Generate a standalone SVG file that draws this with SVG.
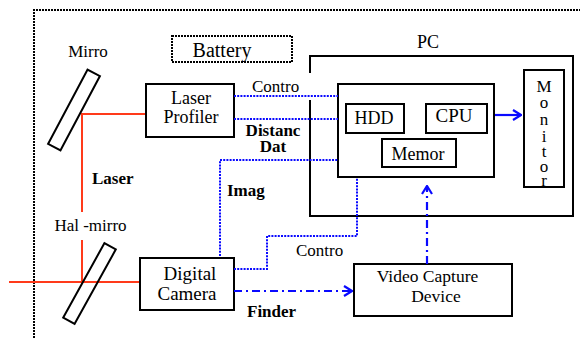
<svg xmlns="http://www.w3.org/2000/svg" width="580" height="338" viewBox="0 0 580 338" font-family="Liberation Serif" font-size="17">
<defs>
<style>
.box{fill:#fff;stroke:#000;stroke-width:2}
.c{text-anchor:middle}
.b{font-weight:bold}
.red{fill:none;stroke:#ff3a1a;stroke-width:2}
.dot{fill:none;stroke:#0a0aff;stroke-width:2;stroke-dasharray:2 1.2}
.dd{fill:none;stroke:#0a0aff;stroke-width:2.2;stroke-dasharray:8 4 2 4}
.sol{fill:none;stroke:#0a0aff;stroke-width:2.2}
</style>
<marker id="ah" markerWidth="10" markerHeight="12" refX="9" refY="6" orient="auto" markerUnits="userSpaceOnUse">
<path d="M1,1 L9,6 L1,11" fill="none" stroke="#0a0aff" stroke-width="2.2"/>
</marker>
</defs>
<rect width="580" height="338" fill="#fff"/>
<path d="M34,338 V10 H580" fill="none" stroke="#000" stroke-width="2" stroke-dasharray="2 1"/>
<g id="battery">
<rect x="172" y="36" width="120" height="26" fill="#fff" stroke="#000" stroke-width="2" stroke-dasharray="2 1"/>
<text class="c" x="222" y="57" font-size="20">Battery</text>
</g>
<g id="laser-beam">
<path class="red" d="M146,114 H82 V212"/>
<path class="red" d="M82,240 V282"/>
<path class="red" d="M9,282 H140"/>
</g>
<g id="mirror">
<rect x="-7" y="-42" width="14" height="84" fill="none" stroke="#000" stroke-width="2" transform="translate(74,110) rotate(28)"/>
<text class="c" x="88" y="57">Mirro</text>
</g>
<g id="half-mirror">
<rect x="-6.5" y="-42.5" width="13" height="85" fill="none" stroke="#000" stroke-width="2" transform="translate(89.5,283.5) rotate(29)"/>
<text class="c" x="90.5" y="231">Hal -mirro</text>
</g>
<text class="b" x="92" y="184">Laser</text>
<g id="laser-profiler">
<rect class="box" x="146" y="84" width="88" height="53"/>
<text class="c" x="191" y="104" font-size="18">Laser</text>
<text class="c" x="191" y="123" font-size="18">Profiler</text>
</g>
<g id="digital-camera">
<rect class="box" x="140" y="258" width="94" height="52"/>
<text class="c" x="190" y="280" font-size="19">Digital</text>
<text class="c" x="187" y="300" font-size="19">Camera</text>
</g>
<g id="pc">
<path d="M310,73 V56 H573 V216 H310 V100" fill="none" stroke="#000" stroke-width="2"/>
<text class="c" x="428" y="48" font-size="18">PC</text>
</g>
<g id="pc-main">
<rect class="box" x="338" y="84" width="156" height="93"/>
</g>
<g id="hdd">
<rect class="box" x="346" y="104" width="58" height="29"/>
<text class="c" x="374" y="124" font-size="18">HDD</text>
</g>
<g id="cpu">
<rect class="box" x="426" y="104" width="61" height="29"/>
<text class="c" x="454" y="122" font-size="19">CPU</text>
</g>
<g id="memory">
<rect class="box" x="382" y="139" width="74" height="28"/>
<text class="c" x="418" y="160" font-size="18">Memor</text>
</g>
<g id="monitor">
<rect class="box" x="524" y="70" width="40" height="117"/>
<text class="c" x="544" y="92">M</text>
<text class="c" x="544" y="108">o</text>
<text class="c" x="544" y="125">n</text>
<text class="c" x="544" y="142">i</text>
<text class="c" x="544" y="157">t</text>
<text class="c" x="544" y="172">o</text>
<text class="c" x="544" y="186">r</text>
</g>
<g id="video-capture">
<rect class="box" x="354" y="264" width="158" height="52"/>
<text class="c" x="427.5" y="282" font-size="17.5">Video Capture</text>
<text class="c" x="436" y="302" font-size="17.5">Device</text>
</g>
<g id="connectors">
<path class="dot" d="M234,96 H338"/>
<path class="dot" d="M234,119 H338"/>
<path class="dot" d="M220,256 V160 H338"/>
<path class="dot" d="M234,269 H267 V236 H357 V178"/>
<path class="dd" d="M234,291 H352" marker-end="url(#ah)"/>
<path class="dd" d="M427,264 V186" marker-end="url(#ah)"/>
<path class="sol" d="M495,115 H521" marker-end="url(#ah)"/>
</g>
<text x="252" y="92">Contro</text>
<text class="c b" x="273" y="136">Distanc</text>
<text class="c b" x="273" y="152">Dat</text>
<text class="b" x="227" y="196">Imag</text>
<text x="296" y="256">Contro</text>
<text class="b" x="247" y="317">Finder</text>
</svg>
